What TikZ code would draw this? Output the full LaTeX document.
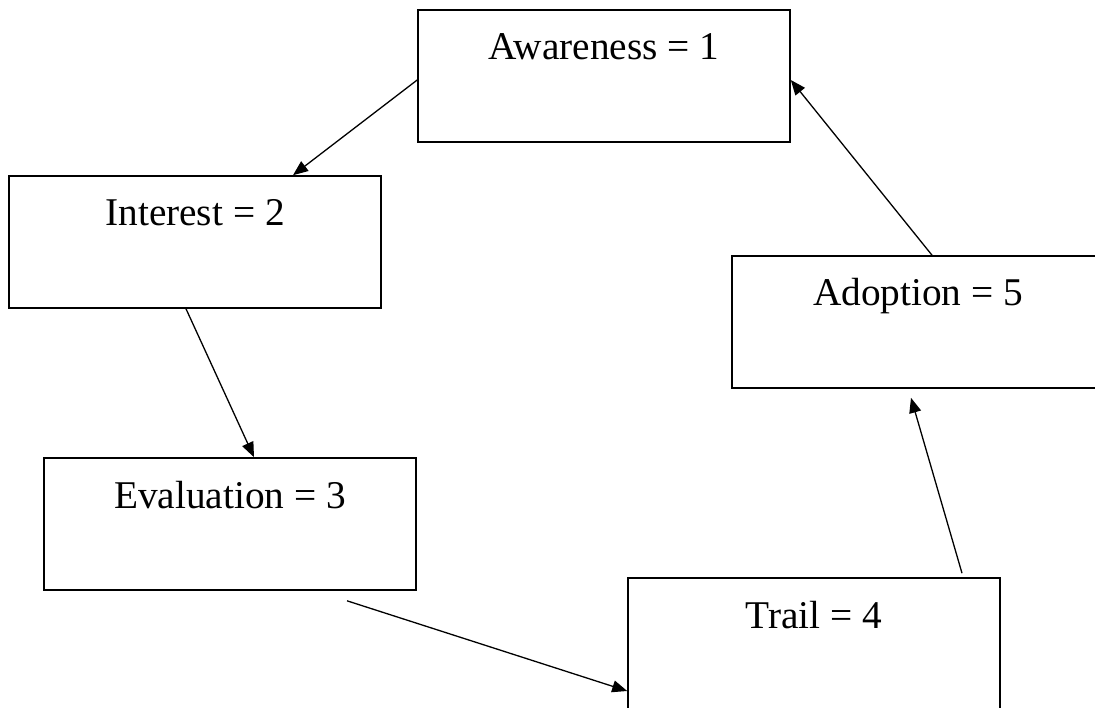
\documentclass[tikz,border=0pt]{standalone}
\usepackage{fontspec}
\setmainfont{Liberation Serif}
\usetikzlibrary{arrows.meta}
\tikzset{
  x=1pt, y=-1pt,
  stage_box/.style = {draw=black, line width=1.6pt, rectangle, minimum width=372pt, inner xsep=0pt, inner ysep=0pt,
	text height=50pt, text depth=82pt, align=center, font=\fontsize{39.3}{47}\selectfont},
  flow_arr/.style = {line width=1.3pt, -{Triangle[length=15pt,width=12pt]}}
}
\begin{document}
\begin{tikzpicture}
\useasboundingbox (0,0) rectangle (1095,708);
\node [stage_box] (aware) at (604,76) {Awareness = 1};
\node [stage_box] (interest) at (195,242) {Interest = 2};
\node [stage_box] (eval) at (230,524) {Evaluation = 3};
\node [stage_box] (trail) at (814,644) {Trail = 4};
\node [stage_box] (adopt) at (918,322) {Adoption = 5};
\draw [flow_arr] ([yshift=-4pt]aware.west) -- ([xshift=98pt]interest.north);
\draw [flow_arr] ([xshift=-9pt]interest.south) -- ([xshift=24pt]eval.north);
\draw [flow_arr] ([xshift=117pt,yshift=-10pt]eval.south) -- ([yshift=-47pt]trail.west);
\draw [flow_arr] ([xshift=148pt,yshift=4pt]trail.north) -- ([xshift=-7pt,yshift=-9pt]adopt.south);
\draw [flow_arr] ([xshift=14pt]adopt.north) -- ([yshift=-4pt]aware.east);
\end{tikzpicture}
\end{document}
